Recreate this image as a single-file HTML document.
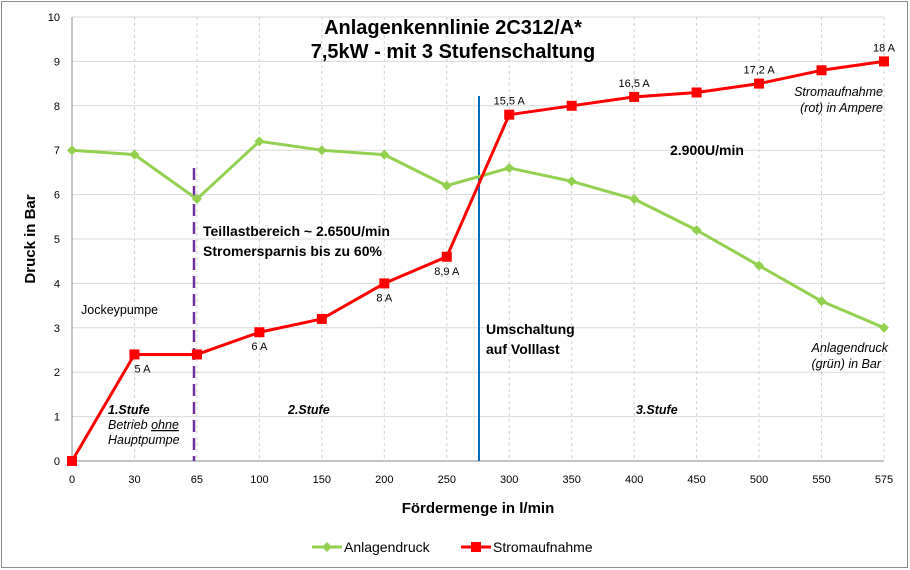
<!DOCTYPE html>
<html><head><meta charset="utf-8"><style>
html,body{margin:0;padding:0;background:#fff;}
svg{display:block;font-family:"Liberation Sans",Arial,sans-serif;}
</style></head><body>
<svg id="chart" width="910" height="570" viewBox="0 0 910 570">
<rect x="1.5" y="1.5" width="906" height="566" fill="#fff" stroke="#8c8c8c"/>
<g id="grid"></g>
<g id="axes"></g>
<text x="453" y="34" text-anchor="middle" font-size="20" font-weight="bold">Anlagenkennlinie 2C312/A*</text>
<text x="453" y="58" text-anchor="middle" font-size="20" font-weight="bold">7,5kW - mit 3 Stufenschaltung</text>
<text x="35" y="239" text-anchor="middle" font-size="15" font-weight="bold" transform="rotate(-90 35 239)">Druck in Bar</text>
<text x="478" y="513" text-anchor="middle" font-size="15" font-weight="bold">Fördermenge in l/min</text>
<line x1="194" y1="168" x2="194" y2="461" stroke="#7030a0" stroke-width="2.5" stroke-dasharray="12,6"/>
<line x1="479" y1="96" x2="479" y2="461" stroke="#0070c0" stroke-width="2"/>
<g id="series"></g>
<g font-size="12.5" fill="#000">
<text x="81" y="314">Jockeypumpe</text>
<text x="108" y="414" font-weight="bold" font-style="italic">1.Stufe</text>
<text x="108" y="429" font-style="italic">Betrieb <tspan text-decoration="underline">ohne</tspan></text>
<text x="108" y="444" font-style="italic">Hauptpumpe</text>
<text x="288" y="414" font-weight="bold" font-style="italic">2.Stufe</text>
<text x="636" y="414" font-weight="bold" font-style="italic">3.Stufe</text>
<text x="203" y="236" font-size="14" font-weight="bold">Teillastbereich ~ 2.650U/min</text>
<text x="203" y="256" font-size="14" font-weight="bold">Stromersparnis bis zu 60%</text>
<text x="486" y="334" font-size="14" font-weight="bold">Umschaltung</text>
<text x="486" y="354" font-size="14" font-weight="bold">auf Volllast</text>
<text x="670" y="155" font-size="14" font-weight="bold">2.900U/min</text>
<text x="883" y="96" text-anchor="end" font-style="italic">Stromaufnahme</text>
<text x="883" y="112" text-anchor="end" font-style="italic">(rot) in Ampere</text>
<text x="888" y="352" text-anchor="end" font-style="italic">Anlagendruck</text>
<text x="881" y="368" text-anchor="end" font-style="italic">(grün) in Bar</text>
</g>
<g id="legend">
<line x1="312" y1="547" x2="342" y2="547" stroke="#92d050" stroke-width="3"/>
<path d="M327 542 L332 547 L327 552 L322 547 Z" fill="#92d050"/>
<text x="344" y="552" font-size="14">Anlagendruck</text>
<line x1="461" y1="547" x2="491" y2="547" stroke="#ff0000" stroke-width="3"/>
<rect x="471" y="542" width="10" height="10" fill="#ff0000"/>
<text x="493" y="552" font-size="14">Stromaufnahme</text>
</g>
</svg>
<script>
const categories = ["0","30","65","100","150","200","250","300","350","400","450","500","550","575"];
const druckValues = [7.0,6.9,5.9,7.2,7.0,6.9,6.2,6.6,6.3,5.9,5.2,4.4,3.6,3.0];
const stromValues = [0,2.4,2.4,2.9,3.2,4.0,4.6,7.8,8.0,8.2,8.3,8.5,8.8,9.0];
const stromLabels = ["","5 A","","6 A","","8 A","8,9 A","15,5 A","","16,5 A","","17,2 A","","18 A"];
const yTicks = [0,1,2,3,4,5,6,7,8,9,10];

const NS="http://www.w3.org/2000/svg";
const L=72,R=884,T=17,B=461,YMAX=10;
function xS(i){return L+i*(R-L)/(categories.length-1);}
function yS(v){return B-v*(B-T)/YMAX;}
function mk(tag,attrs,parent){const e=document.createElementNS(NS,tag);for(const k in attrs)e.setAttribute(k,attrs[k]);parent.appendChild(e);return e;}
const grid=document.getElementById('grid'),axes=document.getElementById('axes'),series=document.getElementById('series');

yTicks.forEach(v=>{
  const g=mk('line',{x1:L,x2:R,y1:yS(v),y2:yS(v),stroke:'#d9d9d9','stroke-width':1},grid);
  
  
  const t=mk('text',{x:L-12,y:yS(v)+4,'text-anchor':'end','font-size':11},axes);
  t.textContent=v;
  
  
});
categories.forEach((c,i)=>{
  if(i>0){
    const g=mk('line',{x1:xS(i),x2:xS(i),y1:T,y2:B,stroke:'#d0d0d0','stroke-width':1,'stroke-dasharray':'3,3'},grid);
    
    
  }
  const t=mk('text',{x:xS(i),y:B+22,'text-anchor':'middle','font-size':11},axes);
  t.textContent=c;
  
  
});
const ax=mk('line',{x1:L,x2:L,y1:T,y2:B,stroke:'#888'},axes);


const bx=mk('line',{x1:L,x2:R,y1:B,y2:B,stroke:'#888'},axes);



const gp=mk('polyline',{points:druckValues.map((v,i)=>xS(i)+','+yS(v)).join(' '),fill:'none',stroke:'#92d050','stroke-width':3,'stroke-linejoin':'round'},series);


druckValues.forEach((v,i)=>{
  const x=xS(i),y=yS(v);
  const p=mk('path',{d:`M${x} ${y-5} L${x+5} ${y} L${x} ${y+5} L${x-5} ${y} Z`,fill:'#92d050'},series);
  
  
});
const rp=mk('polyline',{points:stromValues.map((v,i)=>xS(i)+','+yS(v)).join(' '),fill:'none',stroke:'#ff0000','stroke-width':3,'stroke-linejoin':'round'},series);


stromValues.forEach((v,i)=>{
  const x=xS(i),y=yS(v);
  const r=mk('rect',{x:x-5,y:y-5,width:10,height:10,fill:'#ff0000'},series);
  
  
  if(stromLabels[i]){
    const below=i<=6;
    const t=mk('text',{x:i===1?x+8:x,y:below?y+18:y-10,'text-anchor':'middle','font-size':11},series);
    t.textContent=stromLabels[i];
    
    
  }
});
</script>
</body></html>
